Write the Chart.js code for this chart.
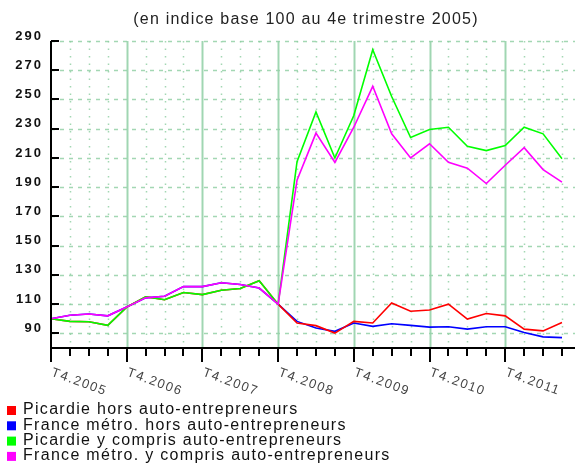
<!DOCTYPE html>
<html>
<head>
<meta charset="utf-8">
<script src="https://cdn.jsdelivr.net/npm/chart.js@4"></script>
<style>
  body { margin: 0; background: #fff; }
  canvas { display: block; }
</style>
</head>
<body>
<canvas id="myChart" width="575" height="464"></canvas>
<script>
const title = '(en indice base 100 au 4e trimestre 2005)';

const quarters = [
  'T4.2005', 'T1.2006', 'T2.2006', 'T3.2006',
  'T4.2006', 'T1.2007', 'T2.2007', 'T3.2007',
  'T4.2007', 'T1.2008', 'T2.2008', 'T3.2008',
  'T4.2008', 'T1.2009', 'T2.2009', 'T3.2009',
  'T4.2009', 'T1.2010', 'T2.2010', 'T3.2010',
  'T4.2010', 'T1.2011', 'T2.2011', 'T3.2011',
  'T4.2011', 'T1.2012', 'T2.2012', 'T3.2012'
];

const yTicks = [90, 110, 130, 150, 170, 190, 210, 230, 250, 270, 290];

const seriesNames = [
  'Picardie hors auto-entrepreneurs',
  'France métro. hors auto-entrepreneurs',
  'Picardie y compris auto-entrepreneurs',
  'France métro. y compris auto-entrepreneurs'
];
const seriesColors = ['#ff0000', '#0000ff', '#00ff00', '#ff00ff'];

const picardieHors = [
  100, 98.2, 98, 95.5, 108, 115, 113, 118, 116.5, 119.5, 120.7, 126,
  110, 97.1, 95.3, 90.2, 98.2, 97.1, 110.8, 105.1, 106, 110,
  99.8, 103.6, 102, 92.9, 91.7, 97.4
];
const franceHors = [
  100, 102.4, 103.3, 102, 108, 114.3, 115.4, 122, 122, 124.6, 123.4, 121,
  110, 98.2, 93.7, 91.4, 97.1, 94.8, 96.6, 95.5, 94.3, 94.5,
  92.9, 94.5, 94.5, 90.6, 87.6, 87.1
];
const picardieAvec = [
  100, 98.2, 98, 95.5, 108, 115, 113, 118, 116.5, 119.5, 120.7, 126,
  110, 207.5, 241.5, 210, 239, 284, 252, 224, 229.5, 231,
  218, 215, 218.5, 231, 226.5, 209.5
];
const franceAvec = [
  100, 102.4, 103.3, 102, 108, 114.3, 115.4, 122, 122, 124.6, 123.4, 121,
  110, 194.8, 227, 207, 231, 259, 226.5, 210, 219.7, 207,
  203, 192.5, 205, 217, 202, 193.5
];

const allSeries = [picardieHors, franceHors, picardieAvec, franceAvec];
const drawOrder = [2, 3, 1, 0]; // magenta on top, then green

const gridColor = 'rgba(140, 205, 160, 0.8)';

const decorPlugin = {
  id: 'decor',
  beforeDraw(chart) {
    const ctx = chart.ctx;
    ctx.save();
    ctx.fillStyle = '#fff';
    ctx.fillRect(0, 0, chart.width, chart.height);
    ctx.restore();
  },
  beforeDatasetsDraw(chart) {
    const ctx = chart.ctx;
    const area = chart.chartArea;
    const x = chart.scales.x;
    const y = chart.scales.y;
    const top = y.getPixelForValue(290);
    const bottom = y.getPixelForValue(80);
    ctx.save();
    // horizontal dashed grid
    ctx.strokeStyle = gridColor;
    ctx.lineWidth = 1.5;
    ctx.setLineDash([4, 5]);
    yTicks.forEach(v => {
      const py = Math.round(y.getPixelForValue(v)) + 0.5;
      ctx.beginPath();
      ctx.moveTo(area.left, py);
      ctx.lineTo(chart.width, py);
      ctx.stroke();
    });
    // vertical grid: solid at T4, dotted otherwise
    quarters.forEach((q, i) => {
      if (i === 0) return;
      const px = Math.round(x.getPixelForValue(i)) + 0.5;
      ctx.beginPath();
      if (i % 4 === 0) {
        ctx.setLineDash([]);
        ctx.lineWidth = 2;
        ctx.strokeStyle = 'rgba(150, 210, 170, 0.9)';
      } else {
        ctx.setLineDash([1.5, 6]);
        ctx.lineWidth = 1.5;
        ctx.strokeStyle = gridColor;
      }
      ctx.moveTo(px, top);
      ctx.lineTo(px, bottom);
      ctx.stroke();
    });
    ctx.restore();
  },
  afterDatasetsDraw(chart) {
    const ctx = chart.ctx;
    const area = chart.chartArea;
    const x = chart.scales.x;
    const y = chart.scales.y;
    const axisY = Math.round(y.getPixelForValue(80));
    const left = Math.round(area.left);
    ctx.save();
    ctx.strokeStyle = '#000';
    ctx.lineWidth = 2;
    ctx.setLineDash([]);
    // y axis + inward ticks
    ctx.beginPath();
    ctx.moveTo(left, y.getPixelForValue(290));
    ctx.lineTo(left, axisY + 1);
    ctx.stroke();
    yTicks.forEach(v => {
      const py = Math.round(y.getPixelForValue(v));
      ctx.beginPath();
      ctx.moveTo(left, py);
      ctx.lineTo(left + 8, py);
      ctx.stroke();
    });
    // x axis + ticks
    ctx.beginPath();
    ctx.moveTo(left, axisY);
    ctx.lineTo(chart.width, axisY);
    ctx.stroke();
    quarters.forEach((q, i) => {
      const px = Math.round(x.getPixelForValue(i));
      ctx.beginPath();
      ctx.moveTo(px, axisY);
      ctx.lineTo(px, axisY + (i % 4 === 0 ? 14 : 8));
      ctx.stroke();
    });

    // y labels
    ctx.fillStyle = '#111';
    ctx.font = 'bold 13px "Liberation Sans"';
    ctx.letterSpacing = '2px';
    ctx.textAlign = 'right';
    ctx.textBaseline = 'middle';
    yTicks.forEach(v => {
      ctx.fillText(String(v), 43, y.getPixelForValue(v) - 5);
    });

    // x labels, rotated downward
    ctx.fillStyle = '#444';
    ctx.font = '13px "Liberation Sans"';
    ctx.letterSpacing = '1.5px';
    ctx.textAlign = 'left';
    ctx.textBaseline = 'top';
    quarters.forEach((q, i) => {
      if (i % 4 !== 0) return;
      const px = x.getPixelForValue(i);
      ctx.save();
      ctx.translate(px + 3, axisY + 18);
      ctx.rotate(20 * Math.PI / 180);
      ctx.fillText(q, 0, 0);
      ctx.restore();
    });

    // title
    ctx.fillStyle = '#222';
    ctx.font = '16px "Liberation Sans"';
    ctx.letterSpacing = '1.2px';
    ctx.textAlign = 'center';
    ctx.textBaseline = 'middle';
    ctx.fillText(title, 306, 20);

    // legend
    ctx.font = '16px "Liberation Sans"';
    ctx.letterSpacing = '1.3px';
    ctx.textAlign = 'left';
    ctx.textBaseline = 'middle';
    seriesNames.forEach((name, k) => {
      const cy = 410 + k * 15.3;
      ctx.fillStyle = seriesColors[k];
      ctx.fillRect(7, cy - 4, 9, 9);
      ctx.fillStyle = '#111';
      ctx.fillText(name, 23, cy);
    });
    ctx.restore();
  }
};

new Chart(document.getElementById('myChart').getContext('2d'), {
  type: 'line',
  data: {
    labels: quarters,
    datasets: seriesNames.map((name, k) => ({
      label: name,
      data: allSeries[k],
      borderColor: seriesColors[k],
      backgroundColor: seriesColors[k],
      borderWidth: 1.6,
      pointRadius: 0,
      tension: 0,
      fill: false,
      order: drawOrder[k]
    }))
  },
  options: {
    responsive: false,
    animation: false,
    layout: { padding: { left: 51, top: 41, right: 13, bottom: 116 } },
    scales: {
      x: { display: false, offset: false },
      y: { display: false, min: 80, max: 290 }
    },
    plugins: {
      legend: { display: false },
      title: { display: false },
      tooltip: { enabled: false }
    }
  },
  plugins: [decorPlugin]
});
</script>
</body>
</html>
